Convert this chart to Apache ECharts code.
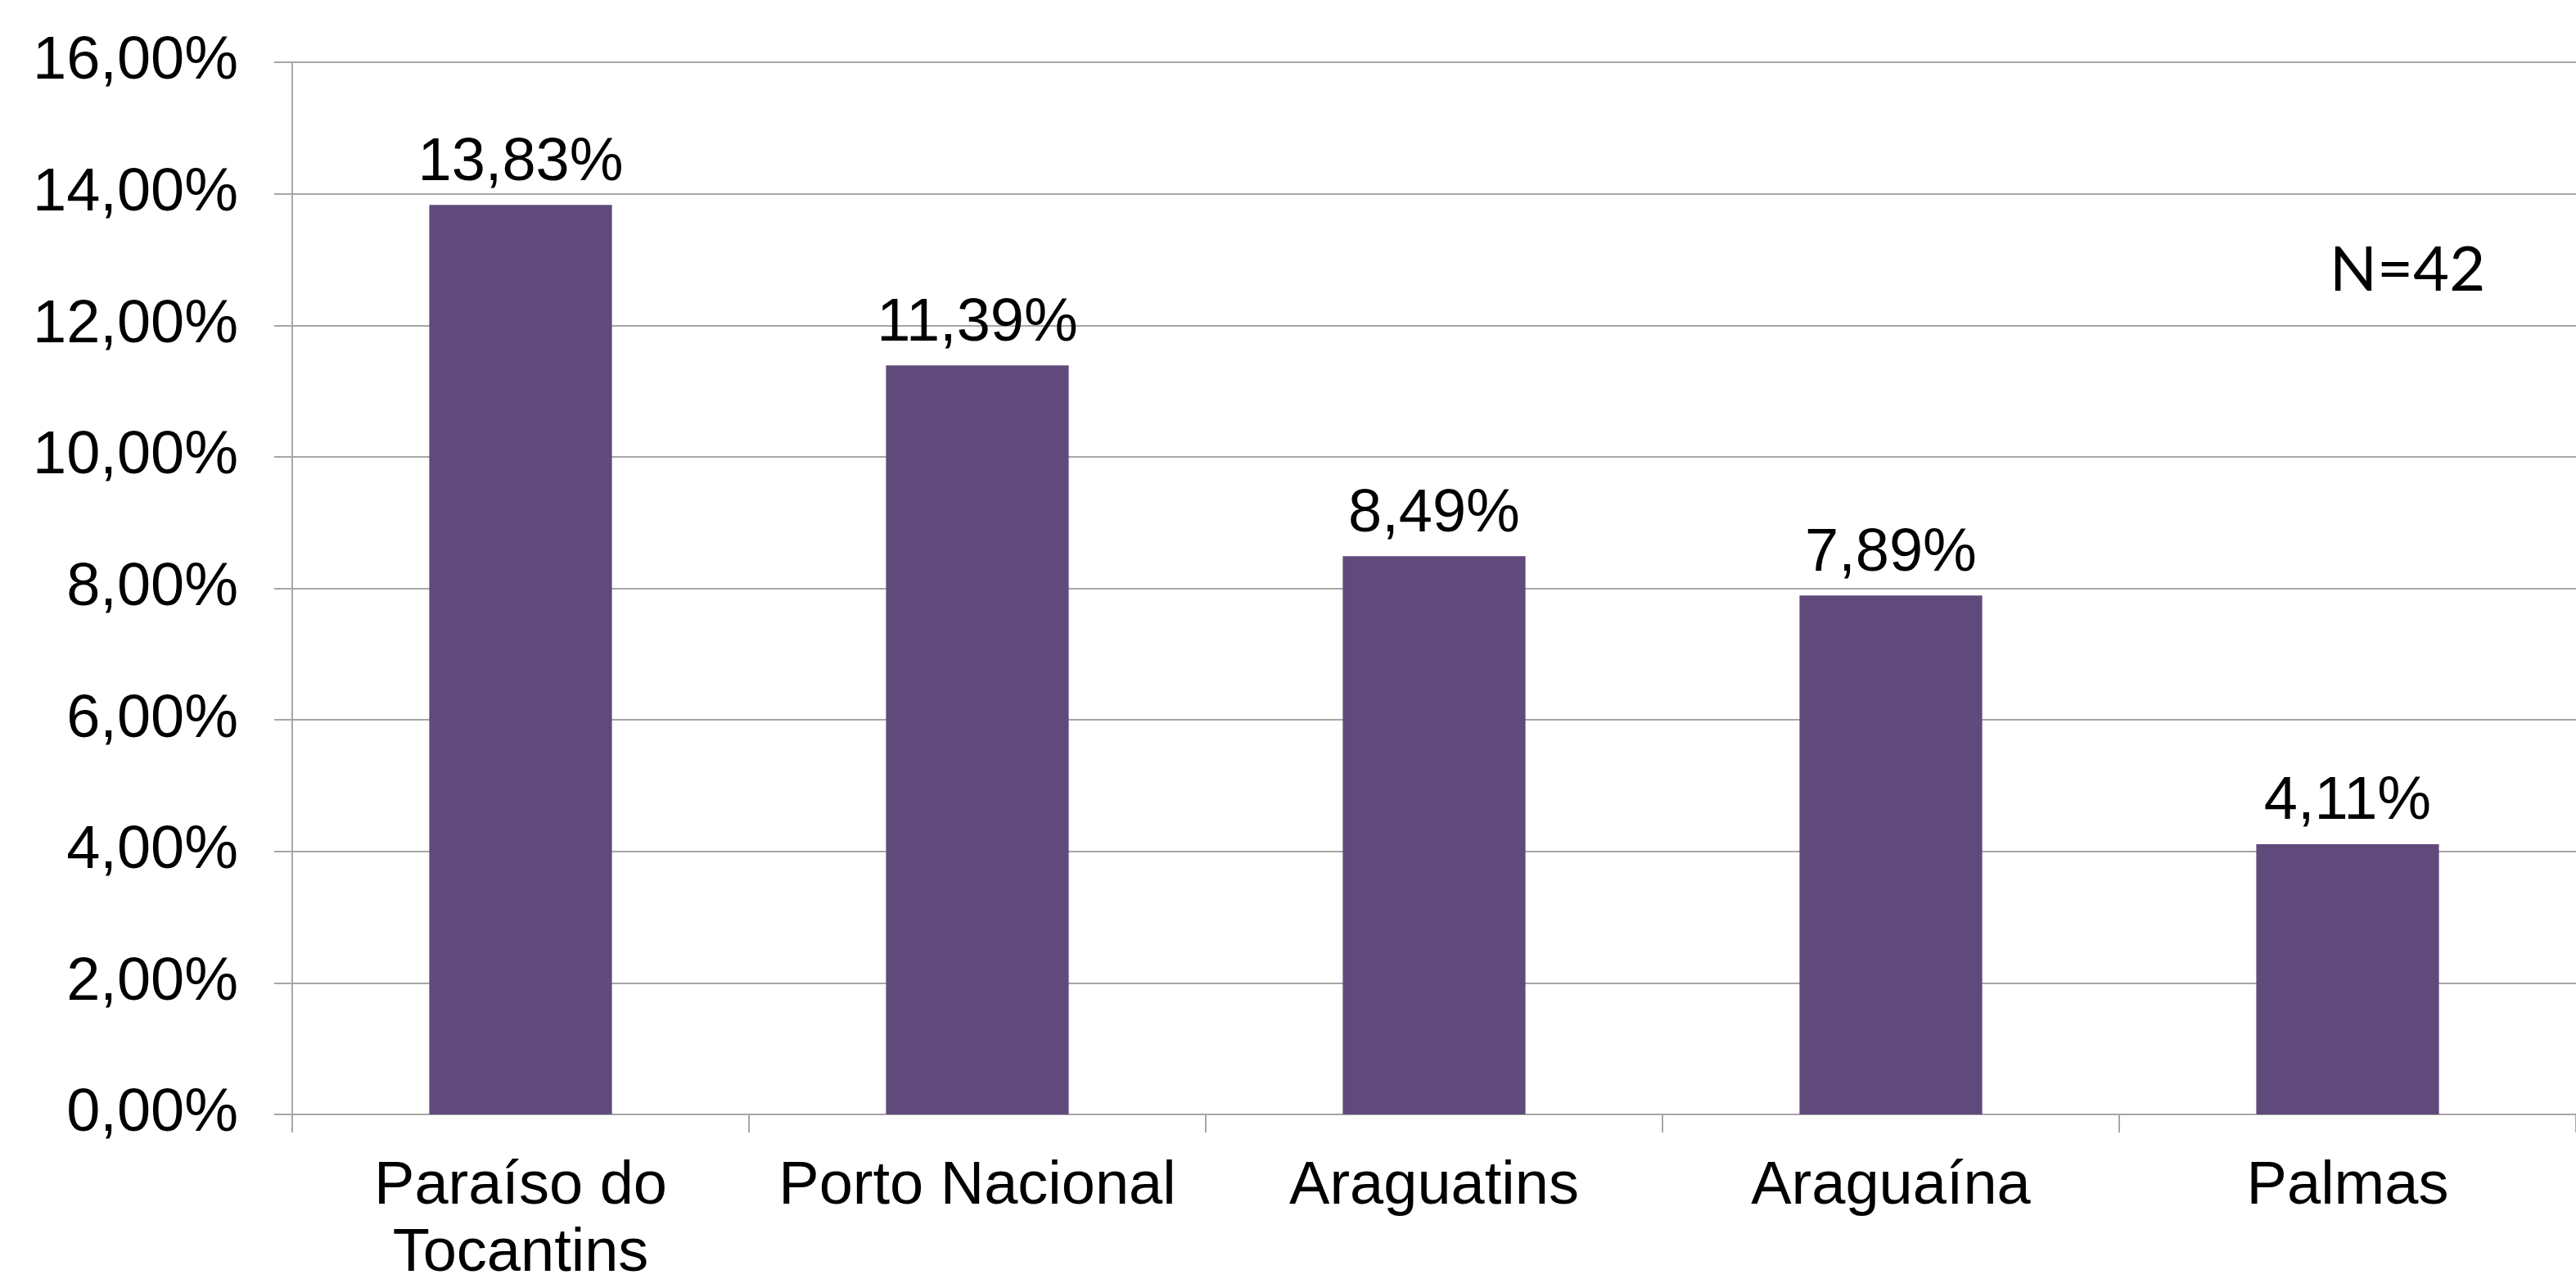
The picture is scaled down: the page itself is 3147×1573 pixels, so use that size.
<!DOCTYPE html>
<html>
<head>
<meta charset="utf-8">
<script src="https://cdn.jsdelivr.net/npm/echarts@6/dist/echarts.min.js"></script>
<style>
  html, body { margin: 0; padding: 0; background: #fff; }
  #chart { width: 3147px; height: 1573px; }
</style>
</head>
<body>
<div id="chart"></div>
<script>
// dados do gráfico
var categories = ['Paraíso do\nTocantins', 'Porto Nacional', 'Araguatins', 'Araguaína', 'Palmas'];
var values = [13.83, 11.39, 8.49, 7.89, 4.11];
var yTicks = [0, 2, 4, 6, 8, 10, 12, 14, 16];
var noteText = 'N=42';

var fmt = function (v) { return v.toFixed(2).replace('.', ',') + '%'; };

var myChart = echarts.init(document.getElementById('chart'));

var option = {
  animation: false,
  backgroundColor: '#ffffff',
  textStyle: { fontFamily: 'Liberation Sans, Arial, sans-serif' },
  grid: { left: 357, right: -12, top: 76, bottom: 203, containLabel: false },
  xAxis: {
    type: 'category',
    data: categories,
    axisLine: { lineStyle: { color: '#a6a6a6', width: 2 } },
    axisTick: { show: true, length: 22, lineStyle: { color: '#a6a6a6', width: 2 } },
    axisLabel: { color: '#000', fontSize: 74, lineHeight: 82, margin: 48, interval: 0 }
  },
  yAxis: {
    type: 'value',
    min: yTicks[0],
    max: yTicks[yTicks.length - 1],
    interval: 2,
    axisLine: { show: true, lineStyle: { color: '#a6a6a6', width: 2 } },
    axisTick: { show: true, length: 22, lineStyle: { color: '#a6a6a6', width: 2 } },
    splitLine: { lineStyle: { color: '#a6a6a6', width: 2 } },
    axisLabel: { color: '#000', fontSize: 74, margin: 66, formatter: fmt }
  },
  series: [{
    type: 'bar',
    data: values,
    barWidth: '40%',
    itemStyle: { color: '#604a7b' },
    label: {
      show: true,
      position: 'top',
      distance: 14,
      color: '#000',
      fontSize: 74,
      formatter: function (p) { return fmt(p.value); }
    }
  }],
  graphic: [{
    type: 'text',
    left: 2846,
    top: 292,
    style: { text: noteText, fill: '#000', fontSize: 76, fontFamily: 'Lato, Carlito, sans-serif' }
  }]
};

myChart.setOption(option);
</script>
</body>
</html>
